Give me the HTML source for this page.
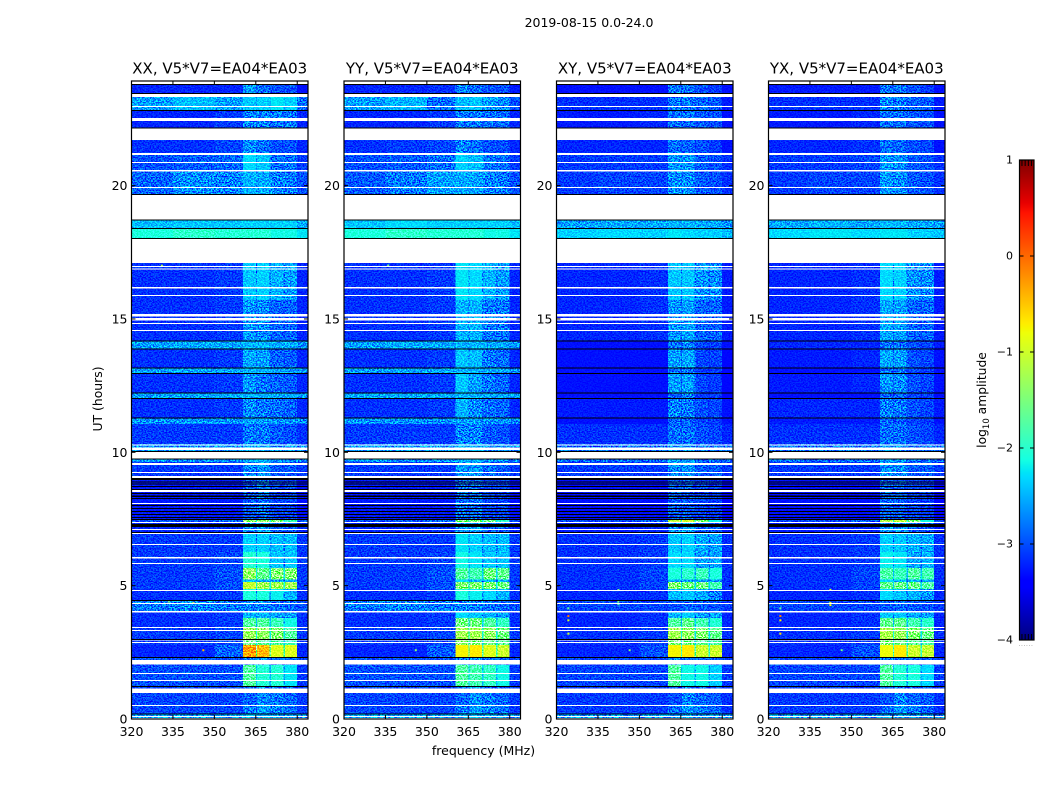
<!DOCTYPE html>
<html lang="en">
<head>
<meta charset="utf-8">
<title>2019-08-15 amplitude spectrograms</title>
<style>
html,body{margin:0;padding:0;background:#fff;}
svg{display:block;}
text{font-family:"DejaVu Sans","Liberation Sans",sans-serif;fill:#000;}
</style>
</head>
<body>
<svg id="figure" xmlns="http://www.w3.org/2000/svg" width="1050" height="800" viewBox="0 0 1050 800">
  <defs>
    <filter id="grain" x="0" y="0" width="100%" height="100%" color-interpolation-filters="sRGB">
      <feTurbulence type="fractalNoise" baseFrequency="0.62 0.8" numOctaves="2" seed="7"/>
      <feColorMatrix type="matrix" values="4.5 0 0 0 -1.75  4.5 0 0 0 -1.75  4.5 0 0 0 -1.75  0 0 0 0 1"/>
    </filter>
  </defs>
  <text x="589" y="27" text-anchor="middle" font-size="12.5">2019-08-15 0.0-24.0</text>
  <text x="483.5" y="755" text-anchor="middle" font-size="12.5">frequency (MHz)</text>
  <text transform="translate(102,399) rotate(-90)" text-anchor="middle" font-size="12.4">UT (hours)</text>
  <text transform="translate(986,400) rotate(-90)" text-anchor="middle" font-size="12.3">log<tspan font-size="8.5" dy="3">10</tspan><tspan dy="-3"> amplitude</tspan></text>
  <g id="panels"></g>
  <g id="colorbar"></g>
  <text x="1026" y="646" text-anchor="middle" font-size="6" letter-spacing="0.6" style="fill:#888">......</text>
</svg>
<script>
// ---- axis data ----
const panelTitles = ["XX, V5*V7=EA04*EA03", "YY, V5*V7=EA04*EA03", "XY, V5*V7=EA04*EA03", "YX, V5*V7=EA04*EA03"];
const xTicks = [320, 335, 350, 365, 380];
const yTicks = [0, 5, 10, 15, 20];
const colorbarTicks = [1, 0, -1, -2, -3, -4];

// ---- heatmap bins ----
// Frequency bins in MHz; band columns are separated by narrow gap columns.
const freqEdges = [320, 335, 350, 360.4, 365, 365.5, 370, 370.5, 375, 375.5, 380, 383.9];
// UT bin edges (hours), one more than the number of rows in each panel array.
const timeEdges = [23.92,23.33,22.84,22.16,21.23,20.55,19.65,18.38,17.14,15.71,14.17,13.87,13.16,12.95,12.24,12.04,11.31,11.06,10.31,9.64,9.04,7.46,7.39,6.98,6.26,5.66,5.23,5.14,4.88,4.46,4.01,3.79,3.45,3.0,2.78,2.33,2.03,1.24,0.53,0.19,0];

// ---- log10 amplitude per time row ----
// Columns: 320-335, 335-350, 350-360, band1, band2, band3, band4, 380-384
const ampXX = [
[-3.2,-3.2,-3.2,-2.6,-2.85,-3.0,-3.0,-3.3],
[-2.6,-2.45,-2.6,-2.4,-2.35,-2.25,-2.35,-2.85],
[-3.2,-3.2,-3.1,-2.75,-2.75,-2.8,-2.8,-3.2],
[-3.15,-3.15,-3.05,-2.7,-2.85,-3.0,-3.0,-3.2],
[-3.0,-2.95,-2.9,-2.3,-2.4,-2.85,-2.85,-3.1],
[-2.9,-2.7,-2.75,-2.5,-2.55,-2.75,-2.8,-3.0],
[-2.45,-2.4,-2.4,-2.35,-2.35,-2.35,-2.35,-2.55],
[-2.1,-2.0,-2.05,-2.05,-2.05,-2.15,-2.15,-2.25],
[-3.15,-3.15,-3.1,-2.4,-2.35,-2.5,-2.6,-3.2],
[-3.15,-3.15,-3.1,-2.65,-2.7,-2.9,-2.9,-3.2],
[-2.6,-2.55,-2.55,-2.5,-2.5,-2.55,-2.55,-2.65],
[-3.15,-3.15,-3.1,-2.55,-2.6,-2.9,-2.95,-3.2],
[-2.6,-2.55,-2.55,-2.5,-2.5,-2.55,-2.6,-2.65],
[-3.15,-3.15,-3.1,-2.65,-2.8,-2.9,-2.95,-3.2],
[-2.6,-2.55,-2.55,-2.5,-2.5,-2.55,-2.55,-2.65],
[-3.15,-3.15,-3.1,-2.7,-2.8,-2.85,-2.9,-3.2],
[-2.65,-2.65,-2.65,-2.6,-2.6,-2.65,-2.65,-2.7],
[-3.1,-3.1,-3.1,-2.8,-2.8,-2.95,-3.0,-3.15],
[-2.65,-2.65,-2.65,-2.5,-2.5,-2.65,-2.65,-2.75],
[-3.1,-3.1,-3.1,-2.75,-2.65,-2.95,-2.95,-3.1],
[-3.25,-3.25,-3.25,-2.95,-2.85,-3.05,-3.05,-3.3],
[-3.0,-3.0,-2.9,-1.4,-1.4,-1.5,-1.9,-3.0],
[-3.2,-3.2,-3.15,-2.7,-2.6,-2.95,-2.95,-3.2],
[-3.1,-3.1,-3.1,-2.35,-2.35,-2.45,-2.45,-3.1],
[-3.1,-3.1,-3.05,-2.05,-2.1,-2.4,-2.4,-3.1],
[-3.1,-3.1,-3.0,-1.35,-1.65,-1.45,-1.45,-3.1],
[-3.1,-3.1,-3.05,-2.4,-2.5,-2.6,-2.5,-3.1],
[-3.1,-3.1,-3.0,-1.05,-1.25,-1.25,-1.25,-3.1],
[-3.15,-3.15,-3.1,-2.1,-2.1,-2.2,-2.5,-3.15],
[-2.8,-2.75,-2.8,-2.75,-2.75,-2.85,-2.9,-3.0],
[-3.15,-3.15,-3.1,-2.5,-2.5,-2.6,-2.6,-3.15],
[-3.15,-3.15,-3.1,-1.75,-1.75,-1.9,-2.15,-3.15],
[-3.1,-3.1,-3.05,-1.3,-1.35,-1.45,-1.75,-3.1],
[-3.1,-3.1,-3.05,-1.6,-1.7,-1.8,-1.9,-3.1],
[-3.2,-3.2,-2.9,-0.3,-0.45,-0.9,-0.9,-3.2],
[-3.0,-3.0,-3.0,-2.8,-2.7,-2.8,-2.9,-3.05],
[-3.0,-3.0,-3.0,-1.75,-2.05,-2.05,-2.25,-3.1],
[-3.05,-3.05,-3.05,-2.9,-2.7,-2.8,-2.9,-3.1],
[-3.05,-3.05,-3.05,-2.8,-2.6,-2.75,-2.85,-3.1],
[-2.6,-2.6,-2.6,-2.5,-2.5,-2.6,-2.6,-2.7]
];
const ampYY = [
[-3.2,-3.2,-3.15,-2.75,-2.85,-3.0,-3.0,-3.25],
[-2.6,-2.5,-2.85,-2.45,-2.4,-2.6,-2.7,-3.0],
[-3.2,-3.2,-3.1,-2.8,-2.8,-2.85,-2.85,-3.2],
[-3.15,-3.1,-3.05,-2.75,-2.85,-3.0,-3.0,-3.2],
[-3.0,-2.95,-2.85,-2.35,-2.45,-2.8,-2.85,-3.1],
[-2.95,-2.8,-2.6,-2.55,-2.6,-2.75,-2.8,-3.0],
[-2.4,-2.3,-2.35,-2.35,-2.35,-2.35,-2.35,-2.45],
[-2.1,-2.0,-2.05,-2.05,-2.05,-2.15,-2.15,-2.25],
[-3.15,-3.15,-3.1,-2.25,-2.3,-2.5,-2.6,-3.2],
[-3.15,-3.15,-3.1,-2.5,-2.5,-2.8,-2.8,-3.2],
[-2.6,-2.55,-2.55,-2.5,-2.5,-2.55,-2.55,-2.65],
[-3.15,-3.15,-3.1,-2.4,-2.45,-2.8,-2.85,-3.2],
[-2.6,-2.55,-2.55,-2.5,-2.5,-2.55,-2.6,-2.65],
[-3.15,-3.15,-3.1,-2.4,-2.6,-2.8,-2.9,-3.2],
[-2.55,-2.55,-2.55,-2.5,-2.5,-2.55,-2.55,-2.6],
[-3.15,-3.15,-3.1,-2.5,-2.7,-2.85,-2.9,-3.2],
[-2.65,-2.65,-2.65,-2.6,-2.6,-2.65,-2.65,-2.7],
[-3.1,-3.1,-3.1,-2.75,-2.75,-2.95,-3.0,-3.15],
[-2.65,-2.65,-2.65,-2.5,-2.5,-2.65,-2.65,-2.75],
[-3.1,-3.1,-3.1,-2.65,-2.65,-2.85,-2.95,-3.1],
[-3.25,-3.25,-3.25,-2.85,-2.85,-3.05,-3.05,-3.3],
[-3.0,-3.0,-2.9,-1.5,-1.5,-1.6,-2.0,-3.0],
[-3.2,-3.2,-3.15,-2.6,-2.6,-2.95,-2.95,-3.2],
[-3.1,-3.1,-3.1,-2.25,-2.35,-2.45,-2.45,-3.1],
[-3.1,-3.1,-3.05,-2.15,-2.25,-2.4,-2.4,-3.1],
[-3.1,-3.1,-3.0,-1.75,-1.85,-1.55,-1.65,-3.1],
[-3.1,-3.1,-3.05,-2.3,-2.5,-2.5,-2.5,-3.1],
[-3.1,-3.1,-3.0,-1.45,-1.45,-1.45,-1.55,-3.1],
[-3.15,-3.15,-3.1,-2.1,-2.2,-2.3,-2.5,-3.15],
[-2.8,-2.75,-2.8,-2.75,-2.75,-2.85,-2.9,-3.0],
[-3.15,-3.15,-3.1,-2.3,-2.4,-2.5,-2.6,-3.15],
[-3.15,-3.15,-3.1,-1.55,-1.55,-1.75,-1.95,-3.15],
[-3.1,-3.1,-3.05,-1.25,-1.25,-1.35,-1.55,-3.1],
[-3.1,-3.1,-3.05,-1.4,-1.5,-1.6,-1.7,-3.1],
[-3.2,-3.2,-2.95,-0.75,-0.7,-0.9,-1.0,-3.2],
[-3.0,-3.0,-3.0,-2.8,-2.7,-2.8,-2.9,-3.05],
[-3.0,-3.0,-3.0,-1.75,-1.85,-1.95,-2.15,-3.1],
[-3.05,-3.05,-3.05,-2.9,-2.7,-2.8,-2.9,-3.1],
[-3.05,-3.05,-3.05,-2.8,-2.6,-2.75,-2.85,-3.1],
[-2.6,-2.6,-2.6,-2.5,-2.5,-2.6,-2.6,-2.7]
];
const ampXY = [
[-3.3,-3.3,-3.3,-2.8,-2.85,-3.0,-3.1,-3.3],
[-3.15,-3.15,-3.15,-2.8,-2.8,-2.9,-2.95,-3.25],
[-3.25,-3.25,-3.2,-2.85,-2.85,-2.95,-3.0,-3.3],
[-3.2,-3.2,-3.2,-2.85,-2.9,-3.0,-3.1,-3.3],
[-3.1,-3.1,-3.1,-2.65,-2.65,-2.95,-3.0,-3.15],
[-3.1,-3.05,-3.05,-2.7,-2.7,-2.95,-3.0,-3.15],
[-2.6,-2.55,-2.55,-2.5,-2.5,-2.55,-2.55,-2.65],
[-2.35,-2.3,-2.35,-2.25,-2.3,-2.35,-2.35,-2.45],
[-3.2,-3.2,-3.15,-2.4,-2.4,-2.65,-2.7,-3.25],
[-3.2,-3.2,-3.15,-2.65,-2.6,-2.9,-2.9,-3.25],
[-3.3,-3.3,-3.3,-2.85,-2.75,-3.05,-3.05,-3.3],
[-3.3,-3.3,-3.3,-2.6,-2.55,-3.05,-3.05,-3.35],
[-3.3,-3.3,-3.3,-2.85,-2.8,-3.1,-3.1,-3.35],
[-3.3,-3.3,-3.3,-2.6,-2.6,-3.05,-3.1,-3.35],
[-3.3,-3.3,-3.3,-2.9,-2.8,-3.1,-3.1,-3.35],
[-3.25,-3.25,-3.25,-2.75,-2.8,-3.0,-3.05,-3.3],
[-3.3,-3.3,-3.3,-2.9,-2.9,-3.05,-3.1,-3.3],
[-3.15,-3.15,-3.15,-2.85,-2.85,-3.0,-3.05,-3.2],
[-2.85,-2.85,-2.85,-2.6,-2.6,-2.85,-2.85,-2.9],
[-3.1,-3.1,-3.1,-2.7,-2.65,-2.95,-2.95,-3.1],
[-3.3,-3.3,-3.3,-2.95,-2.95,-3.05,-3.1,-3.35],
[-3.05,-3.05,-2.95,-1.1,-1.0,-1.5,-2.15,-3.05],
[-3.25,-3.25,-3.2,-2.7,-2.6,-2.95,-2.95,-3.25],
[-3.15,-3.15,-3.1,-2.4,-2.35,-2.55,-2.6,-3.15],
[-3.15,-3.15,-3.1,-2.3,-2.3,-2.6,-2.55,-3.15],
[-3.15,-3.15,-3.05,-2.1,-2.0,-1.9,-2.1,-3.15],
[-3.15,-3.15,-3.1,-2.5,-2.6,-2.6,-2.6,-3.15],
[-3.15,-3.15,-3.05,-1.45,-1.55,-1.55,-1.85,-3.15],
[-3.2,-3.2,-3.15,-2.45,-2.4,-2.55,-2.75,-3.2],
[-3.05,-3.05,-3.05,-3.0,-2.9,-2.95,-3.0,-3.1],
[-3.2,-3.2,-3.15,-2.5,-2.4,-2.6,-2.6,-3.2],
[-3.2,-3.2,-3.15,-1.75,-1.65,-1.85,-2.05,-3.2],
[-3.15,-3.15,-3.1,-1.25,-1.35,-1.45,-1.65,-3.15],
[-3.15,-3.15,-3.1,-1.5,-1.6,-1.7,-1.8,-3.15],
[-3.2,-3.2,-3.0,-0.75,-0.7,-1.0,-1.0,-3.2],
[-3.05,-3.05,-3.05,-2.8,-2.8,-2.9,-2.95,-3.1],
[-3.05,-3.05,-3.05,-1.75,-2.15,-2.15,-2.35,-3.1],
[-3.1,-3.1,-3.1,-3.0,-2.75,-2.9,-2.95,-3.15],
[-3.1,-3.1,-3.1,-2.85,-2.65,-2.8,-2.9,-3.15],
[-2.65,-2.65,-2.65,-2.6,-2.6,-2.65,-2.65,-2.7]
];
const ampYX = [
[-3.25,-3.25,-3.25,-2.8,-2.85,-3.0,-3.1,-3.3],
[-3.15,-3.15,-3.15,-2.75,-2.8,-2.9,-2.95,-3.25],
[-3.25,-3.25,-3.2,-2.85,-2.85,-2.95,-3.0,-3.3],
[-3.2,-3.2,-3.15,-2.85,-2.9,-3.0,-3.05,-3.3],
[-3.1,-3.1,-3.05,-2.65,-2.7,-2.95,-3.0,-3.15],
[-3.1,-3.05,-3.05,-2.65,-2.7,-2.95,-3.0,-3.15],
[-2.55,-2.5,-2.55,-2.45,-2.5,-2.55,-2.55,-2.6],
[-2.3,-2.25,-2.3,-2.25,-2.25,-2.35,-2.35,-2.4],
[-3.2,-3.2,-3.15,-2.3,-2.35,-2.65,-2.7,-3.25],
[-3.2,-3.2,-3.15,-2.55,-2.6,-2.9,-2.9,-3.25],
[-3.2,-3.2,-3.2,-2.85,-2.85,-3.0,-3.05,-3.25],
[-3.25,-3.25,-3.2,-2.55,-2.6,-3.0,-3.05,-3.3],
[-3.3,-3.3,-3.3,-2.85,-2.85,-3.05,-3.1,-3.3],
[-3.25,-3.25,-3.2,-2.65,-2.7,-3.0,-3.05,-3.3],
[-3.3,-3.3,-3.3,-2.9,-2.9,-3.05,-3.1,-3.3],
[-3.2,-3.2,-3.2,-2.75,-2.8,-3.0,-3.05,-3.25],
[-3.25,-3.25,-3.25,-2.9,-2.95,-3.05,-3.1,-3.3],
[-3.15,-3.15,-3.15,-2.85,-2.85,-3.0,-3.05,-3.2],
[-2.85,-2.85,-2.85,-2.6,-2.65,-2.85,-2.85,-2.9],
[-3.1,-3.1,-3.1,-2.7,-2.7,-2.95,-2.95,-3.1],
[-3.3,-3.3,-3.3,-2.9,-2.95,-3.05,-3.1,-3.35],
[-3.05,-3.05,-2.95,-1.2,-1.1,-1.5,-2.15,-3.05],
[-3.25,-3.25,-3.2,-2.65,-2.65,-2.95,-2.95,-3.25],
[-3.15,-3.15,-3.1,-2.35,-2.4,-2.5,-2.55,-3.15],
[-3.15,-3.15,-3.1,-2.2,-2.25,-2.55,-2.5,-3.15],
[-3.15,-3.15,-3.05,-1.8,-1.9,-1.75,-1.85,-3.15],
[-3.15,-3.15,-3.1,-2.3,-2.5,-2.5,-2.5,-3.15],
[-3.15,-3.15,-3.05,-1.65,-1.6,-1.6,-1.75,-3.15],
[-3.2,-3.2,-3.15,-2.3,-2.4,-2.5,-2.65,-3.2],
[-3.05,-3.05,-3.05,-2.95,-2.9,-2.95,-3.0,-3.1],
[-3.2,-3.2,-3.15,-2.4,-2.4,-2.55,-2.6,-3.2],
[-3.2,-3.2,-3.15,-1.65,-1.65,-1.85,-2.0,-3.2],
[-3.15,-3.15,-3.1,-1.2,-1.3,-1.45,-1.6,-3.15],
[-3.15,-3.15,-3.1,-1.5,-1.6,-1.7,-1.8,-3.15],
[-3.2,-3.2,-3.0,-0.8,-0.7,-1.0,-1.05,-3.2],
[-3.05,-3.05,-3.05,-2.8,-2.8,-2.9,-2.95,-3.1],
[-3.05,-3.05,-3.05,-1.75,-2.05,-2.1,-2.3,-3.1],
[-3.1,-3.1,-3.1,-3.0,-2.75,-2.9,-2.95,-3.15],
[-3.1,-3.1,-3.1,-2.85,-2.65,-2.8,-2.9,-3.15],
[-2.65,-2.65,-2.65,-2.6,-2.6,-2.65,-2.65,-2.7]
];

// ---- masked time ranges, [later hour, earlier hour] ----
const blankRanges = [[23.92,23.81],[23.46,23.33],[22.99,22.95],[22.54,22.43],[22.14,21.71],[21.23,21.15],[20.89,20.85],[20.59,20.53],[19.95,19.91],[19.65,18.71],[18.0,17.1],[16.99,16.95],[16.89,16.86],[16.2,16.14],[15.9,15.86],[15.19,15.09],[15.04,14.94],[14.85,14.81],[14.59,14.55],[10.29,10.26],[10.18,10.09],[10.01,9.77],[9.6,9.53],[9.26,9.23],[9.11,9.04],[8.59,8.51],[8.1,8.06],[7.39,7.35],[7.13,7.09],[6.98,6.94],[6.56,6.53],[6.08,6.02],[5.85,5.81],[4.84,4.8],[4.35,4.31],[4.05,3.99],[3.45,3.41],[3.34,3.3],[2.98,2.94],[2.89,2.85],[2.21,2.04],[1.73,1.69],[1.46,1.43],[1.14,0.98],[0.53,0.49],[0.11,0.09],[0.04,0.02]];
const darkRanges = [[23.81,23.78],[23.48,23.46],[22.84,22.81],[22.17,22.14],[19.69,19.64],[18.73,18.7],[18.41,18.38],[18.04,18.0],[14.19,14.16],[13.89,13.87],[13.18,13.16],[12.98,12.95],[12.24,12.22],[12.04,12.01],[11.31,11.28],[10.05,10.02],[9.77,9.73],[9.04,8.96],[8.91,8.89],[8.83,8.81],[8.74,8.7],[8.63,8.59],[8.48,8.44],[8.38,8.33],[8.29,8.25],[8.03,8.0],[7.91,7.88],[7.8,7.78],[7.69,7.65],[7.58,7.54],[7.5,7.46],[7.31,7.2],[7.01,6.98],[4.46,4.44],[3.0,2.98],[2.33,2.3],[1.24,1.21],[0.21,0.16]];

// ---- isolated spikes: [panel index, MHz, hour, log10 amplitude] ----
const spikes = [
[0,346,2.58,-0.4],[0,333.5,4.4,-1.6],[0,342.4,4.35,-1.2],[0,331,17.0,-1.2],[0,340,23.4,-1.2],
[1,346,2.58,-1.4],[1,342.4,4.35,-1.8],[1,336,17.0,-1.5],
[2,324.3,4.15,-1.7],[2,324.3,3.86,-0.1],[2,324.3,3.7,-1.0],[2,324.3,3.2,-1.0],[2,342.4,4.84,-1.5],[2,342.4,4.4,-1.6],[2,342.4,4.3,-1.8],[2,346.5,2.58,-1.5],[2,341,23.4,-1.0],
[3,324.3,4.15,-1.7],[3,324.3,3.86,-0.1],[3,324.3,3.7,-0.7],[3,324.3,3.2,-0.6],[3,342.4,4.84,-0.9],[3,342.4,4.35,-0.8],[3,342.4,4.27,-0.8],[3,346.5,2.58,-1.6],[3,341,23.4,-1.0]
];

// ---- layout (not data) ----
const panelLefts = [131.5, 344, 556.5, 768.5];
const PANEL_W = 176.5, AX_TOP = 81, AX_BOTTOM = 719, PX_PER_HOUR = 26.67, F0 = 320, F1 = 383.9;
const CB_X = 1019.5, CB_W = 14.5, CB_TOP = 160, CB_BOTTOM = 640;
const valueSets = [ampXX, ampYY, ampXY, ampYX];
const SVGNS = "http://www.w3.org/2000/svg";

function jet(t) {
  t = Math.max(0, Math.min(1, t));
  const seg = (pts) => {
    for (let i = 1; i < pts.length; i++) {
      if (t <= pts[i][0]) {
        const a = pts[i - 1], b = pts[i];
        return a[1] + (b[1] - a[1]) * (t - a[0]) / (b[0] - a[0] || 1);
      }
    }
    return pts[pts.length - 1][1];
  };
  const r = seg([[0,0],[0.35,0],[0.66,1],[0.89,1],[1,0.5]]);
  const g = seg([[0,0],[0.125,0],[0.375,1],[0.64,1],[0.91,0],[1,0]]);
  const b = seg([[0,0.5],[0.11,1],[0.34,1],[0.65,0],[1,0]]);
  return "rgb(" + Math.round(r * 255) + "," + Math.round(g * 255) + "," + Math.round(b * 255) + ")";
}
const colorOf = (v) => jet((v + 4) / 5);
const yScale = (h) => AX_BOTTOM - h * PX_PER_HOUR;
const xScaleFor = (left) => (f) => left + (f - F0) / (F1 - F0) * PANEL_W;
const cbScale = (v) => CB_TOP + (1 - v) * (CB_BOTTOM - CB_TOP) / 5;

function make(tag, attrs, parent) {
  const el = document.createElementNS(SVGNS, tag);
  for (const k in attrs) el.setAttribute(k, attrs[k]);
  parent.appendChild(el);
  return el;
}
function cellValue(row, col) {
  // Columns 4, 6 and 8 are the gaps between the bright bands.
  if (col === 4) return (row[2] + row[3]) / 2;
  if (col === 6) return (row[2] + row[4]) / 2;
  if (col === 8) return (row[2] + row[5]) / 2;
  const source = [0, 1, 2, 3, null, 4, null, 5, null, 6, 7];
  return row[source[col]];
}

const panelsRoot = document.getElementById("panels");
panelTitles.forEach((title, p) => {
  const left = panelLefts[p], x = xScaleFor(left), rows = valueSets[p];
  const g = make("g", {}, panelsRoot);
  
  

  const cells = make("g", { "shape-rendering": "crispEdges" }, g);
  
  
  rows.forEach((row, i) => {
    for (let c = 0; c < freqEdges.length - 1; c++) {
      const cell = make("rect", {
        x: x(freqEdges[c]), y: yScale(timeEdges[i]),
        width: x(freqEdges[c + 1]) - x(freqEdges[c]),
        height: yScale(timeEdges[i + 1]) - yScale(timeEdges[i]),
        fill: colorOf(cellValue(row, c))
      }, cells);
      
      
    }
  });

  const grain = make("rect", { x: left, y: AX_TOP, width: PANEL_W, height: AX_BOTTOM - AX_TOP, filter: "url(#grain)", style: "mix-blend-mode:overlay" }, g);
  
  

  spikes.filter((s) => s[0] === p).forEach((s) => {
    const mark = make("rect", { x: x(s[1]) - 1, y: yScale(s[2]) - 1, width: 2, height: 2, fill: colorOf(s[3]) }, g);
    
    
  });

  blankRanges.forEach((r) => {
    const band = make("rect", {
      x: left, y: yScale(r[0]), width: PANEL_W,
      height: Math.max(1, yScale(r[1]) - yScale(r[0])), fill: "#fff", "shape-rendering": "crispEdges"
    }, g);
    
    
  });
  darkRanges.forEach((r) => {
    const band = make("rect", {
      x: left, y: yScale(r[0]), width: PANEL_W,
      height: Math.max(1, yScale(r[1]) - yScale(r[0])), fill: "#000", "shape-rendering": "crispEdges"
    }, g);
    
    
  });

  const frame = make("rect", { x: left, y: AX_TOP, width: PANEL_W, height: AX_BOTTOM - AX_TOP, fill: "none", stroke: "#000", "stroke-width": 1.2 }, g);
  
  

  xTicks.forEach((t) => {
    const px = x(t);
    [[AX_TOP, AX_TOP + 4], [AX_BOTTOM - 4, AX_BOTTOM]].forEach((seg) => {
      const tick = make("line", { x1: px, x2: px, y1: seg[0], y2: seg[1], stroke: "#000", "stroke-width": 1 }, g);
      
      
    });
    const label = make("text", { x: px, y: 736, "text-anchor": "middle", "font-size": 12.5 }, g);
    
    
    label.textContent = t;
  });
  yTicks.forEach((t) => {
    const py = yScale(t);
    [[left, left + 4], [left + PANEL_W - 4, left + PANEL_W]].forEach((seg) => {
      const tick = make("line", { x1: seg[0], x2: seg[1], y1: py, y2: py, stroke: "#000", "stroke-width": 1 }, g);
      
      
    });
    const label = make("text", { x: left - 4, y: py + 4.5, "text-anchor": "end", "font-size": 12.5 }, g);
    
    
    label.textContent = t;
  });

  const heading = make("text", { x: left + PANEL_W / 2, y: 73.5, "text-anchor": "middle", "font-size": 15 }, g);
  
  
  heading.textContent = title;
});

// ---- colorbar ----
const cbRoot = document.getElementById("colorbar");
for (let py = CB_TOP; py < CB_BOTTOM; py++) {
  const v = 1 - (py + 0.5 - CB_TOP) * 5 / (CB_BOTTOM - CB_TOP);
  const swatch = make("rect", { x: CB_X, y: py, width: CB_W, height: 1, fill: colorOf(v), "shape-rendering": "crispEdges" }, cbRoot);
  
  
}
const cbFrame = make("rect", { x: CB_X, y: CB_TOP, width: CB_W, height: CB_BOTTOM - CB_TOP, fill: "none", stroke: "#000", "stroke-width": 1.2 }, cbRoot);


colorbarTicks.forEach((t) => {
  const py = cbScale(t);
  [[CB_X, CB_X + 4], [CB_X + CB_W - 4, CB_X + CB_W]].forEach((seg) => {
    const tick = make("line", { x1: seg[0], x2: seg[1], y1: py, y2: py, stroke: "#000", "stroke-width": 1 }, cbRoot);
    
    
  });
  const label = make("text", { x: 1013, y: py + 3.5, "text-anchor": "end", "font-size": 11 }, cbRoot);
  
  
  label.textContent = t < 0 ? "\u2212" + Math.abs(t) : String(t);
});
[0.17, 0.39, 0.61, 0.83].forEach((frac) => {
  const px = CB_X + frac * CB_W;
  [[CB_TOP, CB_TOP + 6], [CB_BOTTOM - 6, CB_BOTTOM]].forEach((seg) => {
    const tick = make("line", { x1: px, x2: px, y1: seg[0], y2: seg[1], stroke: "#000", "stroke-width": 1 }, cbRoot);
    
    
  });
});
</script>
</body>
</html>
